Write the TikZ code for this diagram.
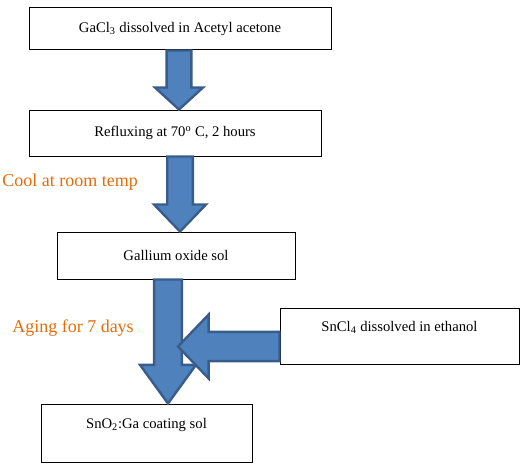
\documentclass[tikz,border=0pt]{standalone}
\usepackage{fontspec}
\setmainfont{Liberation Serif}
\usepackage{tikz}
\usetikzlibrary{calc,positioning}
\definecolor{arrowfill}{HTML}{4F81BD}
\definecolor{arrowline}{HTML}{385D8A}
\definecolor{noteorange}{HTML}{E46C0A}
\tikzset{
stepbox/.style={draw=black,line width=0.75pt,inner sep=0pt,font=\fontsize{11}{13}\selectfont,anchor=center},
lowtext/.style={text depth=14pt},
note/.style={text=noteorange,font=\fontsize{13.5}{16}\selectfont,anchor=west,inner sep=0pt},
flowblock/.style={draw=arrowline,fill=arrowfill,line width=1.8pt,line join=miter}
}
% block arrow: from, tip, half shaft, half head, head length
\newcommand{\blockarrow}[5]{%
\coordinate (hb) at ($(#2)!#5!(#1)$);
\draw[flowblock] ($(#1)!#3!90:(#2)$) -- ($(hb)!#3!90:(#2)$) -- ($(hb)!#4!90:(#2)$) -- (#2)
  -- ($(hb)!#4!-90:(#2)$) -- ($(hb)!#3!-90:(#2)$) -- ($(#1)!#3!-90:(#2)$) -- cycle;
}

\begin{document}
\begin{tikzpicture}[x=0.75pt,y=-0.75pt]
\useasboundingbox (0,0) rectangle (523,467);
\node[stepbox,minimum width=226.5pt,minimum height=31.5pt] (gacl) at (180,29) {GaCl\textsubscript{3} dissolved in Acetyl acetone};
\node[stepbox,minimum width=219pt,minimum height=34.5pt] (reflux) at (175,133) {Refluxing at 70\textsuperscript{o} C, 2 hours};
\node[stepbox,minimum width=178.5pt,minimum height=35.25pt] (gasol) at (176,255.5) {Gallium oxide sol};
\node[stepbox,lowtext,minimum width=158.25pt,minimum height=43.5pt] (coat) at (146.5,433) {SnO\textsubscript{2}:Ga coating sol};
\node[stepbox,lowtext,minimum width=179.25pt,minimum height=42pt] (sncl) at (399.5,336) {SnCl\textsubscript{4} dissolved in ethanol};

\node[note] (cool) at (2,182) {Cool at room temp};
\node[note] (aging) at (12,328) {Aging for 7 days};

\coordinate (a1s) at ($(gacl.south)+(-1,0)$);
\coordinate (a1t) at (a1s |- reflux.north);
\coordinate (a2s) at ($(reflux.south)+(5,0)$);
\coordinate (a2t) at (a2s |- gasol.north);
\coordinate (a3s) at ($(gasol.south)+(-8,0)$);
\coordinate (a3t) at (a3s |- coat.north);
\coordinate (a4s) at ($(sncl.west)+(0,10.5)$);
\coordinate (a4t) at ($(a4s -| a3s)+(10,0)$);

\blockarrow{a1s}{a1t}{9.3pt}{18pt}{16.5pt}
\blockarrow{a2s}{a2t}{9.6pt}{19.5pt}{20.25pt}
\blockarrow{a3s}{a3t}{10.4pt}{21pt}{29pt}
\blockarrow{a4s}{a4t}{11pt}{24pt}{23pt}
\end{tikzpicture}
\end{document}
